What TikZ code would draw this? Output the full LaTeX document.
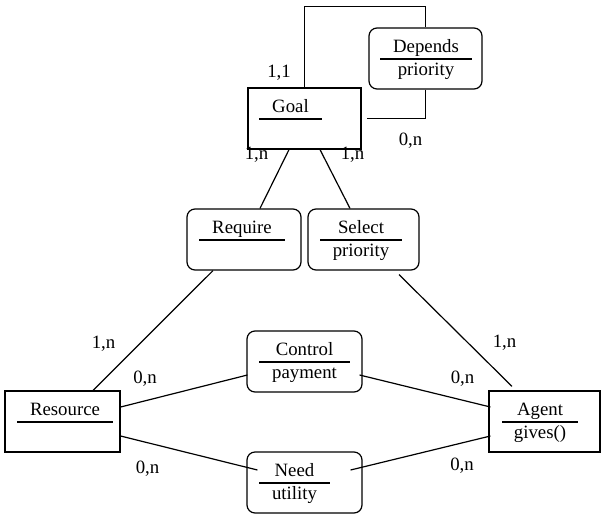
\documentclass[tikz,border=0pt]{standalone}
\usepackage{fontspec}
\setmainfont{Liberation Serif}
\usetikzlibrary{positioning,calc}

\begin{document}
\begin{tikzpicture}[x=1pt,y=-1pt,line width=1.2pt,
  every node/.style={font=\fontsize{18.8}{22}\selectfont,inner sep=0pt},
  entity/.style={draw,minimum width=#1,minimum height=61pt},
  relation/.style={draw,rounded corners=8pt,minimum width=#1,minimum height=61pt},
  title/.style={anchor=base},
  card/.style={anchor=base}]
\useasboundingbox (0,0) rectangle (601,514);

% boxes
\node[entity=113pt] (goal) at (304.5,118.5) {};
\node[relation=113pt] (depends) at (425.5,58.5) {};
\node[relation=114pt] (require) at (244,239.5) {};
\node[relation=111pt] (select) at (363.5,239.5) {};
\node[entity=115pt] (resource) at (62.5,421.5) {};
\node[relation=115pt] (control) at (304.5,361.5) {};
\node[relation=115pt] (need) at (304.5,482.5) {};
\node[entity=111pt] (agent) at (544.5,421.5) {};

% names and attributes
\node[title] (goal-t) at (290.5,112) {Goal};
\draw ($(goal-t.base)+(-31.5,7)$) -- ++(63,0);
\node[title] (depends-t) at (426,52) {Depends};
\draw ($(depends-t.base)+(-46,7)$) -- ++(92,0);
\node[title] (depends-a) at (426,75) {priority};
\node[title] (require-t) at (242,233) {Require};
\draw ($(require-t.base)+(-43,7)$) -- ++(86,0);
\node[title] (select-t) at (361,233) {Select};
\draw ($(select-t.base)+(-41,7)$) -- ++(82,0);
\node[title] (select-a) at (361,256) {priority};
\node[title] (resource-t) at (65,415) {Resource};
\draw ($(resource-t.base)+(-48,7)$) -- ++(96,0);
\node[title] (control-t) at (304.5,355) {Control};
\draw ($(control-t.base)+(-45.5,7)$) -- ++(91,0);
\node[title] (control-a) at (304.5,378) {payment};
\node[title] (need-t) at (294.5,476) {Need};
\draw ($(need-t.base)+(-35.5,7)$) -- ++(71,0);
\node[title] (need-a) at (294.5,499) {utility};
\node[title] (agent-t) at (540,415) {Agent};
\draw ($(agent-t.base)+(-38,7)$) -- ++(76,0);
\node[title] (agent-a) at (540,438) {gives()};

% cardinalities
\node[card] (c-goal-dep) at (279,77) {1,1};
\node[card] (c-dep-goal) at (410.5,145) {0,n};
\node[card] (c-goal-req) at (256.5,159) {1,n};
\node[card] (c-goal-sel) at (352.5,159) {1,n};
\node[card] (c-res-req) at (103.5,348) {1,n};
\node[card] (c-res-ctl) at (145,383) {0,n};
\node[card] (c-res-need) at (147.5,473) {0,n};
\node[card] (c-ag-sel) at (504.5,347) {1,n};
\node[card] (c-ag-ctl) at (462.5,383) {0,n};
\node[card] (c-ag-need) at (462,470) {0,n};

% connectors
\draw (goal.north) -- ++(0,-81) -| (depends.north);
\draw (depends.south) |- ([xshift=5pt]goal.east);
\draw ([xshift=-15.5pt]goal.south) -- ([xshift=16pt]require.north);
\draw ([xshift=15.5pt]goal.south) -- ([xshift=-13.5pt]select.north);
\draw ([xshift=-31pt]require.south) -- ([xshift=30.5pt]resource.north);
\draw ([xshift=35.5pt,yshift=-4pt]select.south) -- ([xshift=-32.5pt,yshift=4pt]agent.north);
\draw ([yshift=14.5pt]resource.east) -- ([xshift=1pt,yshift=-13.5pt]control.west);
\draw ([yshift=-14.5pt]resource.east) -- ([xshift=11pt,yshift=12.5pt]need.west);
\draw ([xshift=-3pt,yshift=-13.5pt]control.east) -- ([xshift=2pt,yshift=14.5pt]agent.west);
\draw ([xshift=-12pt,yshift=12.5pt]need.east) -- ([xshift=2pt,yshift=-14.5pt]agent.west);
\end{tikzpicture}
\end{document}
